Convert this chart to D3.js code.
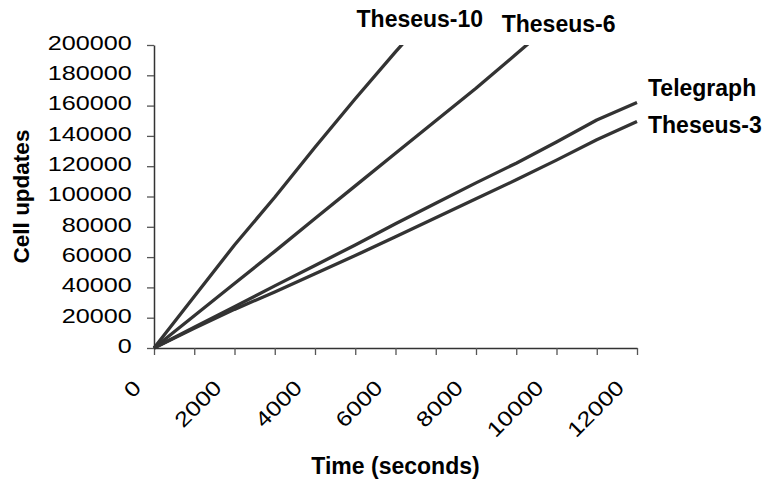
<!DOCTYPE html>
<html>
<head>
<meta charset="utf-8">
<script src="https://cdn.jsdelivr.net/npm/d3@7"></script>
<style>
  html, body { margin: 0; padding: 0; background: #fff; }
  svg { display: block; font-family: "Liberation Sans", Arial, sans-serif; }
</style>
</head>
<body>
<svg id="chart" width="766" height="481"></svg>
<script>
// ---- data ----
const times = [0, 1000, 2000, 3000, 4000, 5000, 6000, 7000, 8000, 9000, 10000, 11000, 12000];
const theseus10 = [0, 34000, 68000, 99500, 132500, 164500, 195500, 225000];
const theseus6  = [0, 21300, 42600, 63800, 85500, 107000, 128500, 150000, 171500, 194000, 217000];
const telegraph = [0, 13700, 27300, 41000, 54500, 68000, 82000, 95500, 109000, 122000, 136000, 150500, 162000];
const theseus3  = [0, 13000, 25500, 37000, 49000, 61000, 73500, 86000, 98500, 111000, 124000, 137400, 149500];
const seriesNames = ["Theseus-10", "Theseus-6", "Telegraph", "Theseus-3"];
const xTickValues = [0, 1000, 2000, 3000, 4000, 5000, 6000, 7000, 8000, 9000, 10000, 11000, 12000];
const yTickValues = [0, 20000, 40000, 60000, 80000, 100000, 120000, 140000, 160000, 180000, 200000];
const xTitle = "Time (seconds)";
const yTitle = "Cell updates";

// ---- layout ----
const svg = d3.select("#chart");
const pL = 154, pR = 637, pT = 45, pB = 348;
const x = d3.scaleLinear().domain([0, 12000]).range([pL, pR]);
const y = d3.scaleLinear().domain([0, 200000]).range([pB, pT]);
const ink = "#333";

svg.append("defs").append("clipPath").attr("id", "plotclip")
  .append("rect").attr("x", pL - 2).attr("y", pT).attr("width", pR - pL + 10).attr("height", pB - pT + 4);

// ---- axes ----
const sx = 1.2;
const yAxis = svg.append("g").attr("transform", `translate(${pL},0)`)
  .call(d3.axisLeft(y).tickValues(yTickValues).tickSize(7).tickSizeOuter(0).tickFormat(d3.format("d")));
yAxis.selectAll("path.domain").attr("stroke", ink).attr("stroke-width", 1.5);
yAxis.selectAll(".tick line").attr("stroke", "#555").attr("stroke-width", 1.3);
yAxis.selectAll(".tick text")
  .attr("font-size", 21).attr("fill", "#000")
  .attr("font-family", "'Liberation Sans', Arial, sans-serif")
  .attr("text-anchor", "end")
  .attr("x", -22.3 / sx).attr("dy", null).attr("y", 4.3)
  .attr("transform", `scale(${sx},1)`);

const xAxis = svg.append("g").attr("transform", `translate(0,${pB})`)
  .call(d3.axisBottom(x).tickValues(xTickValues).tickSize(7).tickSizeOuter(0)
        .tickFormat(d => d % 2000 === 0 ? String(d) : ""));
xAxis.selectAll("path.domain").attr("stroke", ink).attr("stroke-width", 1.5);
xAxis.selectAll(".tick line").attr("stroke", "#555").attr("stroke-width", 1.3);
xAxis.selectAll(".tick text")
  .attr("font-size", 21).attr("fill", "#000")
  .attr("font-family", "'Liberation Sans', Arial, sans-serif")
  .attr("text-anchor", "end")
  .attr("x", 0).attr("y", 0).attr("dy", null)
  .attr("transform", `translate(-12,41) rotate(-45) scale(${sx},1)`);

// ---- lines ----
const allSeries = [theseus10, theseus6, telegraph, theseus3];
const line = d3.line().x((d, i) => x(times[i])).y(d => y(d));
svg.append("g").attr("clip-path", "url(#plotclip)")
  .selectAll("path").data(allSeries).join("path")
  .attr("d", d => line(d))
  .attr("fill", "none").attr("stroke", ink).attr("stroke-width", 3.3)
  .attr("stroke-linejoin", "round").attr("stroke-linecap", "butt");

// ---- series labels ----
const lbl = svg.append("g").attr("font-size", 23).attr("font-weight", "bold").attr("fill", "#000");
lbl.append("text").attr("x", x(6150) - 45).attr("y", 27.3).text(seriesNames[0]);
lbl.append("text").attr("x", x(9260) - 25).attr("y", 31.7).text(seriesNames[1]);
lbl.append("text").attr("x", x(12000) + 11).attr("y", y(telegraph[12]) - 7).text(seriesNames[2]);
lbl.append("text").attr("x", x(12000) + 11).attr("y", y(theseus3[12]) + 11).text(seriesNames[3]);

// ---- axis titles ----
svg.append("text").attr("x", (pL + pR) / 2).attr("y", 474)
  .attr("text-anchor", "middle").attr("font-size", 23).attr("font-weight", "bold")
  .text(xTitle);
svg.append("text").attr("transform", `translate(28.5,${(pT + pB) / 2}) rotate(-90)`)
  .attr("text-anchor", "middle").attr("font-size", 22.5).attr("font-weight", "bold")
  .text(yTitle);
</script>
</body>
</html>
